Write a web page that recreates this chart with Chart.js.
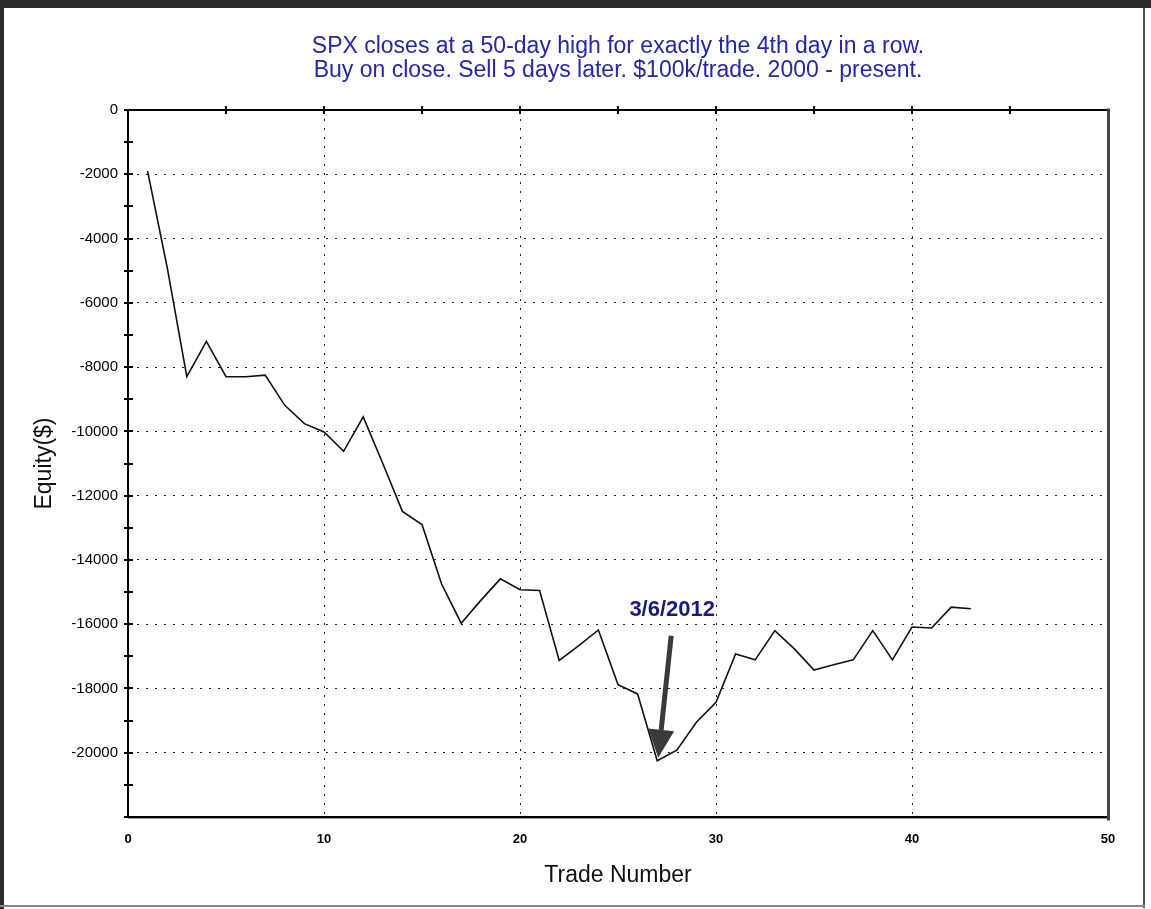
<!DOCTYPE html>
<html>
<head>
<meta charset="utf-8">
<script src="https://cdn.jsdelivr.net/npm/chart.js@4/dist/chart.umd.min.js"></script>
<style>
html,body{margin:0;padding:0;background:#fff;}
#wrap{position:relative;width:1151px;height:909px;overflow:hidden;background:#fff;}
canvas{position:absolute;left:0;top:0;}
#frameTop{position:absolute;left:0;top:0;width:1151px;height:8px;background:#2b2b2b;}
#frameLeft{position:absolute;left:0;top:0;width:4px;height:909px;background:#2b2b2b;}
#frameRight{position:absolute;left:1143px;top:8px;width:2px;height:900px;background:#555;}
#frameBottom{position:absolute;left:0;top:905px;width:1145px;height:2px;background:#888;}
</style>
</head>
<body>
<div id="wrap">
<canvas id="c" width="1151" height="909"></canvas>
<div id="frameTop"></div><div id="frameLeft"></div><div id="frameRight"></div><div id="frameBottom"></div>
</div>
<script>
const titleLines = ['SPX closes at a 50-day high for exactly the 4th day in a row.',
                    'Buy on close. Sell 5 days later. $100k/trade. 2000 - present.'];
const xTitle = 'Trade Number';
const yTitle = 'Equity($)';
const tradeNumbers = [1,2,3,4,5,6,7,8,9,10,11,12,13,14,15,16,17,18,19,20,21,22,23,24,25,26,27,28,29,30,31,32,33,34,35,36,37,38,39,40,41,42,43];
const equity = [-1900,-4900,-8300,-7200,-8300,-8300,-8250,-9190,-9760,-10020,
                -10620,-9550,-11000,-12490,-12900,-14750,-15970,-15260,-14590,-14930,
                -14950,-17130,-16670,-16180,-17880,-18170,-20250,-19920,-19050,-18430,
                -16930,-17110,-16200,-16770,-17430,-17260,-17110,-16200,-17110,-16090,
                -16120,-15470,-15520];
const xTickLabels = [0,10,20,30,40,50];
const yTickLabels = [0,-2000,-4000,-6000,-8000,-10000,-12000,-14000,-16000,-18000,-20000];
const xGridValues = [10,20,30,40];
const yGridValues = [-2000,-4000,-6000,-8000,-10000,-12000,-14000,-16000,-18000,-20000];
const topMinorTicks = [5,10,15,20,25,30,35,40,45];
const annotationText = '3/6/2012';
const annotationTrade = 27;

Chart.defaults.font.family = "'Liberation Sans', Arial, sans-serif";
Chart.defaults.color = '#000';

const framePlugin = {
  id: 'framePlugin',
  afterDraw(chart) {
    const {ctx, chartArea: a, scales: {x, y}} = chart;
    ctx.save();
    // annotation arrow
    const idx = tradeNumbers.indexOf(annotationTrade);
    const px = x.getPixelForValue(annotationTrade), py = y.getPixelForValue(equity[idx]);
    const tipX = px + 1, tipY = py - 3;
    const tailX = tipX + 13, tailY = tipY - 122;
    const dx = tipX - tailX, dy = tipY - tailY, len = Math.hypot(dx, dy);
    const ux = dx / len, uy = dy / len, nx = -uy, ny = ux;
    const headL = 28, headW = 13;
    const bx = tipX - ux * headL, by = tipY - uy * headL;
    ctx.strokeStyle = '#3a3a3a';
    ctx.fillStyle = '#3a3a3a';
    ctx.lineWidth = 5;
    ctx.lineCap = 'butt';
    ctx.beginPath(); ctx.moveTo(tailX, tailY); ctx.lineTo(bx, by); ctx.stroke();
    ctx.beginPath();
    ctx.moveTo(tipX, tipY);
    ctx.lineTo(bx + nx * headW, by + ny * headW);
    ctx.lineTo(bx - nx * headW, by - ny * headW);
    ctx.closePath(); ctx.fill();
    ctx.font = "bold 22px 'Liberation Sans', Arial, sans-serif";
    ctx.fillStyle = '#1a1a7e';
    ctx.textAlign = 'center';
    ctx.textBaseline = 'alphabetic';
    ctx.fillText(annotationText, tailX + 1, tailY - 20);
    // plot border
    ctx.lineCap = 'square';
    ctx.strokeStyle = '#000';
    ctx.lineWidth = 2;
    ctx.beginPath();
    ctx.moveTo(a.left, a.bottom); ctx.lineTo(a.left, a.top); ctx.lineTo(a.right, a.top);
    ctx.moveTo(a.left, a.bottom); ctx.lineTo(a.right, a.bottom);
    ctx.stroke();
    ctx.strokeStyle = '#999';
    ctx.lineWidth = 1;
    ctx.beginPath(); ctx.moveTo(a.left, a.bottom + 1.5); ctx.lineTo(a.right, a.bottom + 1.5); ctx.stroke();
    ctx.strokeStyle = '#444';
    ctx.lineWidth = 3;
    ctx.beginPath(); ctx.moveTo(a.right + 0.5, a.top); ctx.lineTo(a.right + 0.5, a.bottom + 2); ctx.stroke();
    // tick marks crossing the axes
    ctx.strokeStyle = '#000';
    ctx.lineWidth = 2;
    ctx.lineCap = 'butt';
    ctx.beginPath();
    y.ticks.forEach(t => {
      const yy = Math.round(y.getPixelForValue(t.value));
      ctx.moveTo(a.left - 4, yy); ctx.lineTo(a.left + 5, yy);
    });
    topMinorTicks.forEach(v => {
      const xx = Math.round(x.getPixelForValue(v));
      ctx.moveTo(xx, a.top - 4); ctx.lineTo(xx, a.top + 4);
    });
    ctx.stroke();
    ctx.restore();
  }
};

new Chart(document.getElementById('c'), {
  type: 'line',
  data: {
    datasets: [{
      data: tradeNumbers.map((t, i) => ({x: t, y: equity[i]})),
      borderColor: '#111',
      borderWidth: 1.6,
      pointRadius: 0,
      tension: 0,
      fill: false
    }]
  },
  options: {
    responsive: false,
    animation: false,
    events: [],
    layout: {padding: {left: 0, top: 0, right: 43, bottom: 0}},
    plugins: {
      legend: {display: false},
      tooltip: {enabled: false},
      title: {
        display: true,
        text: titleLines,
        color: '#2626a6',
        fullSize: false,
        font: {size: 23, weight: 'normal', lineHeight: '24px'},
        padding: {top: 35, bottom: 27}
      }
    },
    scales: {
      x: {
        type: 'linear',
        position: 'bottom',
        min: 0, max: 50,
        afterFit(s) { s.height = 92; },
        afterBuildTicks(s) { s.ticks = xTickLabels.map(v => ({value: v})); },
        ticks: {
          autoSkip: false, maxRotation: 0,
          padding: 15,
          font: {size: 13, weight: 'bold'},
          color: '#000',
          callback: v => String(v)
        },
        grid: {
          drawTicks: false,
          lineWidth: 1,
          color: c => (c.tick && xGridValues.includes(c.tick.value)) ? '#222' : 'rgba(0,0,0,0)'
        },
        border: {display: false, dash: [2, 7]},
        title: {display: true, text: xTitle, color: '#111', font: {size: 23}, padding: {top: 0, bottom: 20}}
      },
      y: {
        type: 'linear',
        position: 'left',
        min: -22000, max: 0,
        afterFit(s) { s.width = 128; },
        afterBuildTicks(s) {
          const t = [];
          for (let v = -22000; v <= 0; v += 1000) t.push({value: v});
          s.ticks = t;
        },
        ticks: {
          autoSkip: false,
          padding: 10,
          font: {size: 15},
          color: '#000',
          callback: v => yTickLabels.includes(v) ? String(v) : ''
        },
        grid: {
          drawTicks: false,
          lineWidth: 1,
          color: c => (c.tick && yGridValues.includes(c.tick.value)) ? '#222' : 'rgba(0,0,0,0)'
        },
        border: {display: false, dash: [2, 7]},
        title: {display: true, text: yTitle, color: '#111', font: {size: 23}, padding: {top: 31, bottom: 0}}
      }
    }
  },
  plugins: [framePlugin]
});
</script>
</body>
</html>
